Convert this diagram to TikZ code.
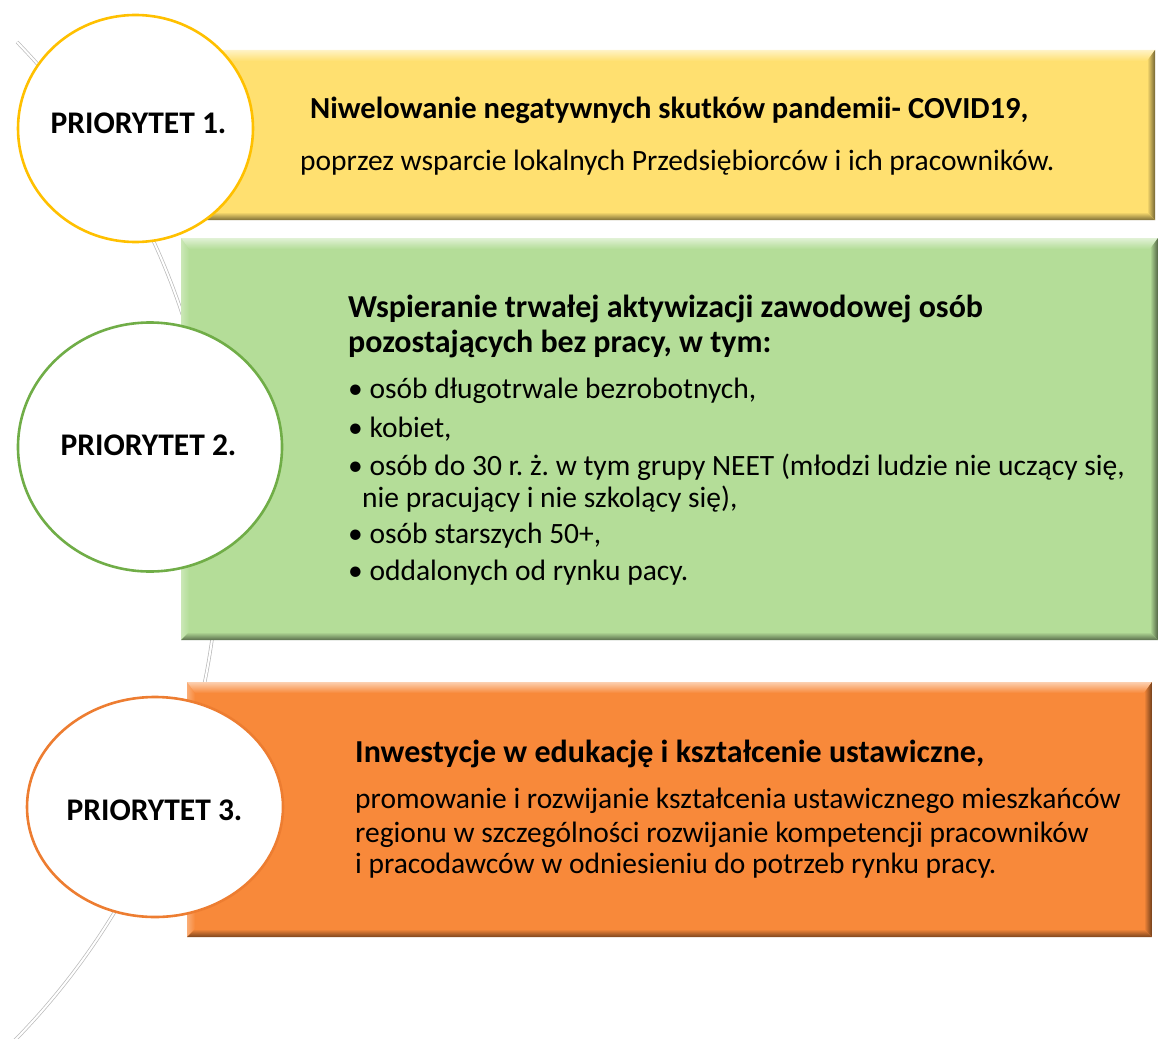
\documentclass[tikz,border=0pt]{standalone}
\usepackage{fontspec}
\setmainfont{Carlito}
\usetikzlibrary{shapes.geometric}
\frenchspacing

\definecolor{zolty}{RGB}{255,224,112}
\definecolor{zielony}{RGB}{180,221,152}
\definecolor{pomarancz}{RGB}{248,137,58}
\definecolor{zoltyram}{RGB}{255,192,0}
\definecolor{zielonyram}{RGB}{112,173,71}
\definecolor{pomaranczram}{RGB}{237,125,49}

\tikzset{
  pole/.style={rectangle, inner sep=0pt, fill=#1,
    path picture={
      \path (path picture bounding box.north west) coordinate (nw)
            (path picture bounding box.north east) coordinate (ne)
            (path picture bounding box.south east) coordinate (se)
            (path picture bounding box.south west) coordinate (sw);
      \shade[left color=#1!70!white, right color=#1] (nw) -- (sw) -- ([xshift=8pt,yshift=8pt]sw) -- ([xshift=8pt,yshift=-11pt]nw) -- cycle;
      \shade[top color=#1!40!white, bottom color=#1] (nw) -- (ne) -- ([xshift=-8pt,yshift=-11pt]ne) -- ([xshift=8pt,yshift=-11pt]nw) -- cycle;
      \shade[left color=#1, right color=#1!45!black] (ne) -- (se) -- ([xshift=-8pt,yshift=8pt]se) -- ([xshift=-8pt,yshift=-11pt]ne) -- cycle;
      \shade[top color=#1, bottom color=#1!50!black] (sw) -- (se) -- ([xshift=-8pt,yshift=8pt]se) -- ([xshift=8pt,yshift=8pt]sw) -- cycle;
    }},
  krag/.style={ellipse, draw=#1, fill=white, line width=2.6pt, inner sep=0pt},
  luk/.style={draw=gray!55, line width=0.7pt, double=white, double distance=2pt},
  priorytet/.style={anchor=base, inner sep=0pt, font=\fontsize{31.5}{38}\selectfont\bfseries},
  tytul/.style={anchor=base west, inner sep=0pt, font=\fontsize{32}{38}\selectfont\bfseries},
  napis/.style={anchor=base west, inner sep=0pt, font=\fontsize{29.5}{35}\selectfont}
}

\begin{document}
\begin{tikzpicture}[x=1pt, y=-1pt]
    \useasboundingbox (0,0) rectangle (1158,1038);

    % luk w tle
    \draw[luk] (17,42) arc[start angle=-44.15, end angle=47, radius=715];

    % pola z opisami
    \node[pole=zolty, minimum width=950pt, minimum height=170pt] (b1) at (680,135) {};
    \node[pole=zielony, minimum width=977pt, minimum height=402pt] (b2) at (669.5,439) {};
    \node[pole=pomarancz, minimum width=965pt, minimum height=255pt] (b3) at (669.5,809.5) {};

    % kola z priorytetami
    \node[krag=zoltyram, minimum width=235pt, minimum height=227pt] (p1) at (135.5,128.5) {};
    \node[krag=zielonyram, minimum width=264pt, minimum height=249pt] (p2) at (150,447) {};
    \node[krag=pomaranczram, minimum width=256pt, minimum height=220pt] (p3) at (155,807) {};

    \node[priorytet] (p1t) at (138.5,133) {PRIORYTET 1.};
    \node[priorytet] (p2t) at (148.5,455) {PRIORYTET 2.};
    \node[priorytet] (p3t) at (154.5,820) {PRIORYTET 3.};

    % priorytet 1
    \node[tytul, font=\fontsize{30.6}{36}\selectfont\bfseries] (t1a) at (310,118) {Niwelowanie negatywnych skutków pandemii- COVID19,};
    \node[napis] (t1b) at (300,170) {poprzez wsparcie lokalnych Przedsiębiorców i ich pracowników.};

    % priorytet 2
    \node[tytul] (t2a) at (348,317) {Wspieranie trwałej aktywizacji zawodowej osób};
    \node[tytul] (t2b) at (348,352) {pozostających bez pracy, w tym:};
    \node[napis] (t2c) at (348,398) {• osób długotrwale bezrobotnych,};
    \node[napis] (t2d) at (348,437) {• kobiet,};
    \node[napis] (t2e) at (348,475) {• osób do 30 r. ż. w tym grupy NEET (młodzi ludzie nie uczący się,};
    \node[napis] (t2f) at (362,507) {nie pracujący i nie szkolący się),};
    \node[napis] (t2g) at (348,543) {• osób starszych 50+,};
    \node[napis] (t2h) at (348,580) {• oddalonych od rynku pacy.};

    % priorytet 3
    \node[tytul] (t3a) at (355,762) {Inwestycje w edukację i kształcenie ustawiczne,};
    \node[napis] (t3b) at (355,808) {promowanie i rozwijanie kształcenia ustawicznego mieszkańców};
    \node[napis] (t3c) at (355,842) {regionu w szczególności rozwijanie kompetencji pracowników};
    \node[napis] (t3d) at (355,873) {i pracodawców w odniesieniu do potrzeb rynku pracy.};

\end{tikzpicture}
\end{document}
